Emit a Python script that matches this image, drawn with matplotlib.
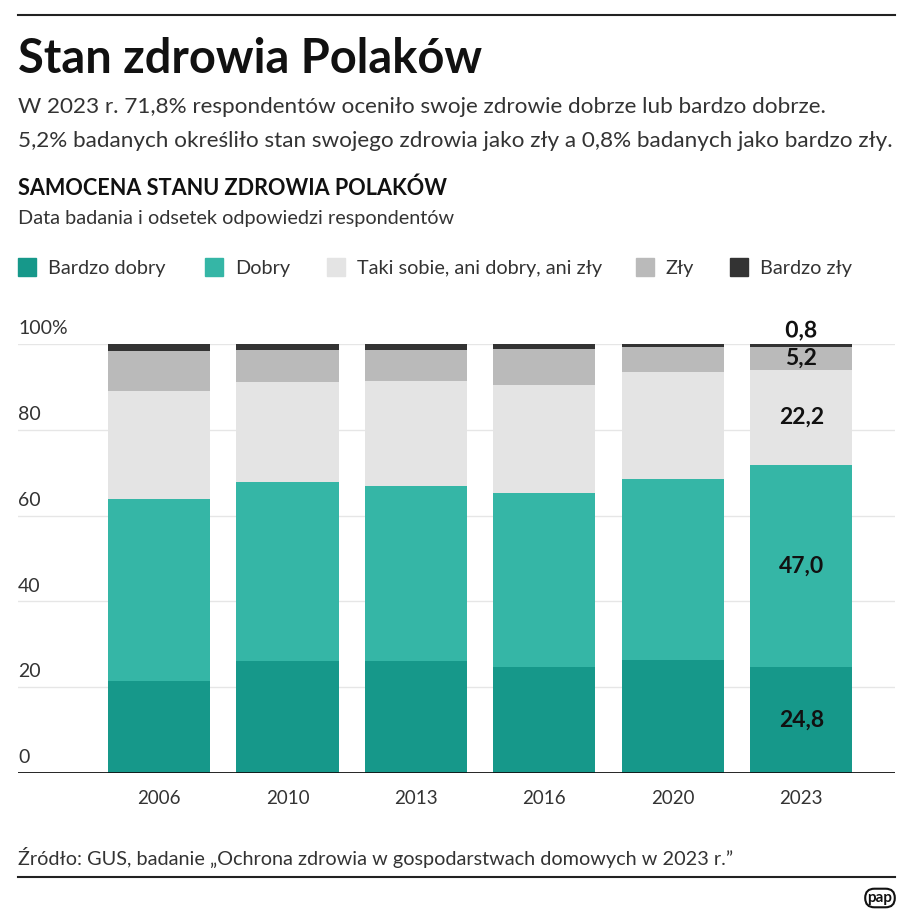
import matplotlib
matplotlib.use("Agg")
import matplotlib.pyplot as plt
import matplotlib.patheffects as pe
from matplotlib.lines import Line2D
from matplotlib.patches import Rectangle

plt.rcParams['font.family'] = ['Lato', 'DejaVu Sans']

years = ['2006', '2010', '2013', '2016', '2020', '2023']
bardzo_dobry = [21.4, 26.1, 26.0, 24.8, 26.3, 24.8]
dobry = [42.5, 41.7, 41.0, 40.4, 42.2, 47.0]
taki_sobie = [25.1, 23.4, 24.4, 25.2, 24.9, 22.2]
zly = [9.3, 7.5, 7.3, 8.4, 6.0, 5.2]
bardzo_zly = [1.7, 1.3, 1.3, 1.2, 0.6, 0.8]

series_names = ['Bardzo dobry', 'Dobry', 'Taki sobie, ani dobry, ani zły', 'Zły', 'Bardzo zły']
colors = ['#16988a', '#35b6a6', '#e4e4e4', '#bababa', '#333333']
yticks = [0, 20, 40, 60, 80, 100]

W, H = 915, 924
fig = plt.figure(figsize=(W / 100, H / 100), dpi=100)
txt = '#333333'

def fx(px):
    return px / W

def fy(py):
    return 1 - py / H

# top and bottom rules
fig.add_artist(Line2D([fx(18), fx(895)], [fy(15), fy(15)], color='#222222', lw=1.5))
fig.add_artist(Line2D([fx(18), fx(895)], [fy(877), fy(877)], color='#222222', lw=1.5))

fig.text(fx(18), fy(73), 'Stan zdrowia Polaków', fontsize=33.8, fontweight='bold', color='#111111', va='baseline')
fig.text(fx(18), fy(113), 'W 2023 r. 71,8% respondentów oceniło swoje zdrowie dobrze lub bardzo dobrze.',
         fontsize=16.2, color=txt, va='baseline')
fig.text(fx(18), fy(147), '5,2% badanych określiło stan swojego zdrowia jako zły a 0,8% badanych jako bardzo zły.',
         fontsize=16.2, color=txt, va='baseline')
fig.text(fx(18), fy(195), 'SAMOCENA STANU ZDROWIA POLAKÓW', fontsize=15.6, fontweight='bold', color='#111111', va='baseline')
fig.text(fx(18), fy(224), 'Data badania i odsetek odpowiedzi respondentów', fontsize=14.35, color=txt, va='baseline')

# legend
leg_x = [18, 205, 327, 636, 730]
for name, c, x in zip(series_names, colors, leg_x):
    fig.add_artist(Rectangle((fx(x), fy(276)), 18 / W, 18 / H, color=c, transform=fig.transFigure))
    fig.text(fx(x + 30), fy(274), name, fontsize=14.3, color=txt, va='baseline')

ax = fig.add_axes([fx(18), fy(773), fx(895) - fx(18), (773 - 344) / H])
pos = list(range(len(years)))
bottom = [0] * len(years)
for vals, c in zip([bardzo_dobry, dobry, taki_sobie, zly, bardzo_zly], colors):
    ax.bar(pos, vals, bottom=bottom, width=0.795, color=c, zorder=2, clip_on=False)
    bottom = [b + v for b, v in zip(bottom, vals)]

ax.set_xlim(-1.098, 5.73)
ax.set_ylim(0, 100)
for s in ax.spines.values():
    s.set_visible(False)
ax.axhline(0, color='#111111', lw=2, zorder=3)
for t in yticks[1:]:
    ax.axhline(t, color='#e6e6e6', lw=1, zorder=1)
ax.set_yticks([])
ax.set_xticks(pos)
ax.set_xticklabels(years, fontsize=13.5, color=txt)
ax.tick_params(axis='x', length=0, pad=12)
for t in yticks:
    lab = f'{t}%' if t == 100 else str(t)
    ax.text(-1.098, t + 1.6, lab, fontsize=14, color=txt, ha='left', va='bottom')

# labels for 2023
i = len(years) - 1
stroke = [pe.withStroke(linewidth=3, foreground='white')]
cum = 0
for vals in [bardzo_dobry, dobry, taki_sobie, zly]:
    v = vals[i]
    ax.text(i, cum + v / 2, f'{v:.1f}'.replace('.', ','), ha='center', va='center',
            fontsize=16.5, fontweight='bold', color='#111111', zorder=5)
    cum += v
ax.text(i, cum + bardzo_zly[i] + 0.6, f'{bardzo_zly[i]:.1f}'.replace('.', ','), ha='center', va='bottom',
        fontsize=16.5, fontweight='bold', color='#111111', zorder=5, path_effects=stroke)

fig.text(fx(18), fy(865), 'Źródło: GUS, badanie „Ochrona zdrowia w gospodarstwach domowych w 2023 r.”',
         fontsize=14.3, color=txt, va='baseline')
fig.text(fx(880), fy(898), 'pap', fontsize=11, fontweight='bold', color='#111111', ha='center', va='center',
         bbox=dict(boxstyle='round,pad=0.15,rounding_size=0.6', fc='white', ec='#111111', lw=1.5))

fig.savefig('out.png', dpi=100)
